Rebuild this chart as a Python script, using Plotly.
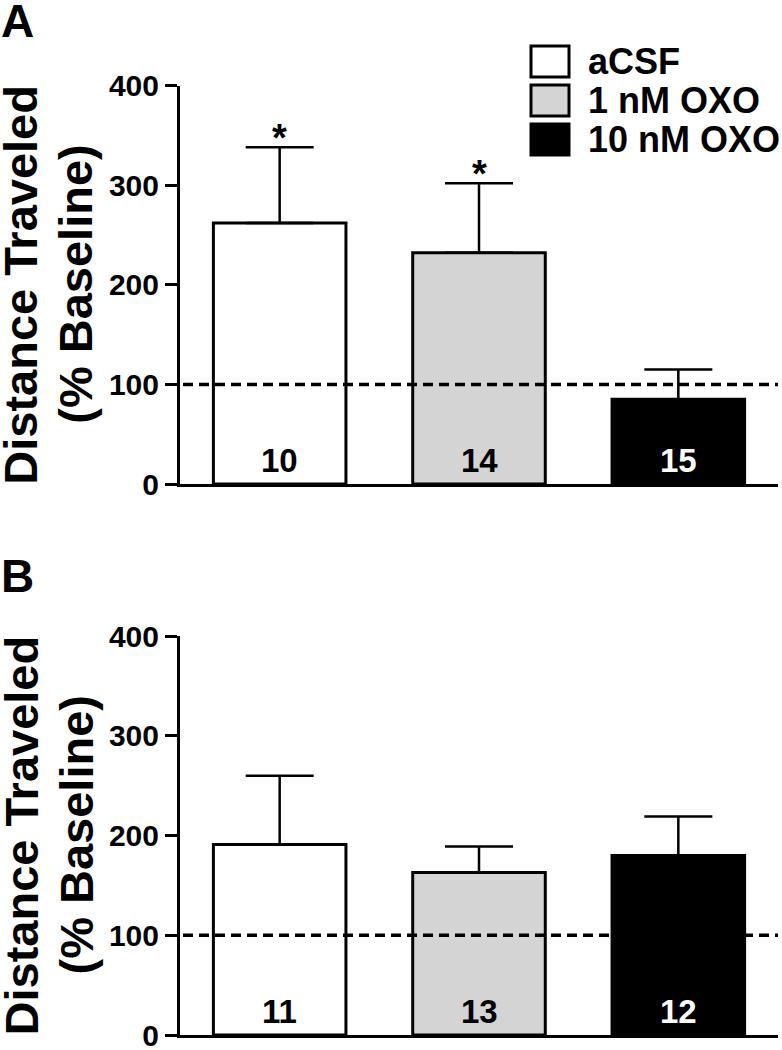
import plotly.graph_objects as go

# ---------------- data ----------------
categories = ["aCSF", "1 nM OXO", "10 nM OXO"]
fill_colors = ["white", "#d4d4d4", "black"]
count_colors = ["black", "black", "white"]

mean_A = [262, 232, 85]
sem_A = [76, 70, 30]
n_A = [10, 14, 15]
sig_A = ["*", "*", ""]

mean_B = [191, 163, 180]
sem_B = [69, 26, 39]
n_B = [11, 13, 12]

y_ticks = [0, 100, 200, 300, 400]
baseline = 100
y_title_1 = "Distance Traveled"
y_title_2 = "(% Baseline)"
panel_labels = ["A", "B"]

FONT = "Liberation Sans, Arial, Helvetica, sans-serif"
W, H = 782, 1050

fig = go.Figure()

panels = [
    dict(mean=mean_A, sem=sem_A, n=n_A, sig=sig_A, xa="x", ya="y"),
    dict(mean=mean_B, sem=sem_B, n=n_B, sig=["", "", ""], xa="x2", ya="y2"),
]

for p in panels:
    fig.add_trace(go.Bar(
        x=categories, y=p["mean"], xaxis=p["xa"], yaxis=p["ya"],
        width=0.665,
        marker=dict(color=fill_colors, line=dict(color="black", width=3)),
        error_y=dict(type="data", symmetric=False, array=p["sem"],
                     arrayminus=[0] * len(p["sem"]),
                     color="black", thickness=2.5, width=34),
        showlegend=False, hoverinfo="skip",
    ))
    # counts inside bars
    for c, n, col in zip(categories, p["n"], count_colors):
        fig.add_annotation(x=c, y=0, xref=p["xa"], yref=p["ya"], text=str(n),
                           showarrow=False, yanchor="bottom", yshift=3,
                           font=dict(family=FONT, size=33, color=col, weight="bold"))
    # significance
    for c, m, s, sg in zip(categories, p["mean"], p["sem"], p["sig"]):
        if sg:
            fig.add_annotation(x=c, y=m + s, xref=p["xa"], yref=p["ya"], text=sg,
                               showarrow=False, yanchor="bottom", yshift=-14,
                               font=dict(family=FONT, size=38, color="black", weight="bold"))
    # baseline dashed line
    fig.add_shape(type="line", xref=p["xa"] + " domain", yref=p["ya"],
                  x0=0.005, x1=1, y0=baseline, y1=baseline, layer="above",
                  line=dict(color="black", width=3.5, dash="10px,6px"))

x_dom = [180 / W, 778 / W]
yA_dom = [1 - 484 / H, 1 - 85.5 / H]
yB_dom = [1 - 1035 / H, 1 - 636 / H]

axis_common_x = dict(domain=x_dom, range=[-0.5, 2.5], showticklabels=False,
                     ticks="", showline=True, linecolor="black", linewidth=3,
                     showgrid=False, zeroline=False, fixedrange=True, automargin=False)
axis_common_y = dict(range=[0, 400], tickvals=y_ticks, ticks="outside", ticklen=12,
                     tickwidth=3, tickcolor="black", showline=True, linecolor="black",
                     linewidth=3, showgrid=False, zeroline=False, automargin=False,
                     fixedrange=True, ticklabeloverflow="allow",
                     tickfont=dict(family=FONT, size=30, color="black", weight="bold"))

fig.update_layout(
    template="none",
    width=W, height=H, margin=dict(l=0, r=0, t=0, b=0, autoexpand=False),
    paper_bgcolor="white", plot_bgcolor="white",
    bargap=0.3,
    xaxis=dict(**axis_common_x, anchor="y"),
    yaxis=dict(**axis_common_y, domain=yA_dom, anchor="x"),
    xaxis2=dict(**axis_common_x, anchor="y2"),
    yaxis2=dict(**axis_common_y, domain=yB_dom, anchor="x2"),
)

# y-axis titles (two lines) and panel letters
for dom, letter, ytop in [(yA_dom, panel_labels[0], 1.0), (yB_dom, panel_labels[1], 1 - 555 / H)]:
    mid = (dom[0] + dom[1]) / 2
    fig.add_annotation(x=21 / W, y=mid, xref="paper", yref="paper", text=y_title_1,
                       textangle=-90, showarrow=False, xanchor="center", yanchor="middle",
                       font=dict(family=FONT, size=47, color="black", weight="bold"))
    fig.add_annotation(x=76 / W, y=mid, xref="paper", yref="paper", text=y_title_2,
                       textangle=-90, showarrow=False, xanchor="center", yanchor="middle",
                       font=dict(family=FONT, size=47, color="black", weight="bold"))
    fig.add_annotation(x=0, y=ytop, xref="paper", yref="paper", text=letter,
                       showarrow=False, xanchor="left", yanchor="top", xshift=-1, yshift=7,
                       font=dict(family=FONT, size=46, color="black", weight="bold"))

# custom legend
box_tops = [46, 85, 124]
for name, col, top in zip(categories, fill_colors, box_tops):
    fig.add_shape(type="rect", xref="paper", yref="paper",
                  x0=531 / W, x1=569 / W, y0=1 - (top + 31) / H, y1=1 - top / H,
                  line=dict(color="black", width=3), fillcolor=col)
    fig.add_annotation(x=586 / W, y=1 - (top + 16) / H, xref="paper", yref="paper",
                       text=name, showarrow=False, xanchor="left", yanchor="middle",
                       font=dict(family=FONT, size=36, color="black", weight="bold"))

fig.write_html("out.html", config={"displayModeBar": False, "staticPlot": True},
               post_script="document.body.style.margin='0';document.body.style.overflow='hidden';")
